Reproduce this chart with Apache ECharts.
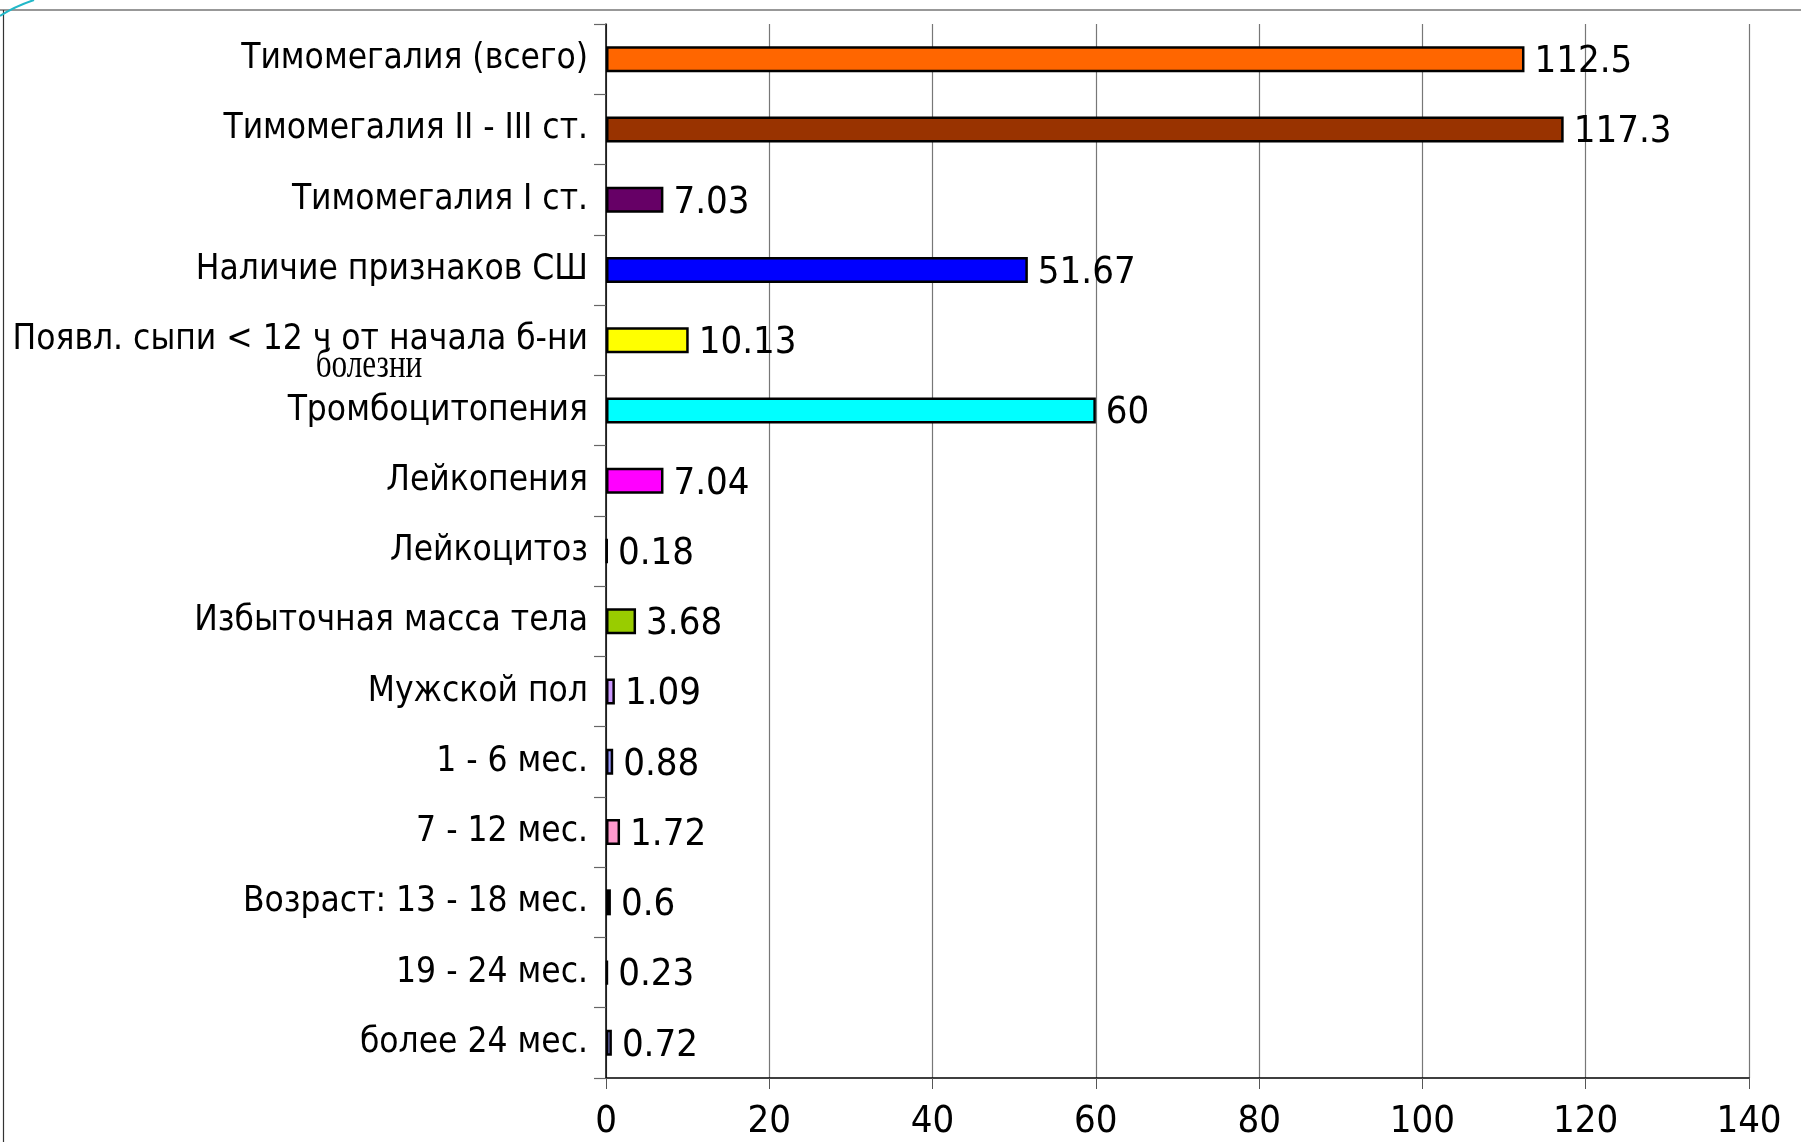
<!DOCTYPE html>
<html>
<head>
<meta charset="utf-8">
<script src="https://cdn.jsdelivr.net/npm/echarts@6/dist/echarts.min.js"></script>
<style>
html,body{margin:0;padding:0;background:#fff;}
#chart{width:1801px;height:1142px;}
</style>
</head>
<body>
<div id="chart"></div>
<script>
var categories = [
  "Тимомегалия (всего)",
  "Тимомегалия II - III ст.",
  "Тимомегалия I ст.",
  "Наличие признаков СШ",
  "Появл. сыпи < 12 ч от начала б-ни",
  "Тромбоцитопения",
  "Лейкопения",
  "Лейкоцитоз",
  "Избыточная масса тела",
  "Мужской пол",
  "1 - 6 мес.",
  "7 - 12 мес.",
  "Возраст: 13 - 18 мес.",
  "19 - 24 мес.",
  "более 24 мес."
];
var values = [112.5, 117.3, 7.03, 51.67, 10.13, 60, 7.04, 0.18, 3.68, 1.09, 0.88, 1.72, 0.6, 0.23, 0.72];
var barColors = ["#FF6600","#993300","#660066","#0000FF","#FFFF00","#00FFFF","#FF00FF","#800000","#99CC00","#CC99FF","#9999FF","#FF99CC","#9999FF","#333333","#9999FF"];
var xTicks = [0, 20, 40, 60, 80, 100, 120, 140];
var extraLabel = "болезни";

var FONT = "'DejaVu Sans Condensed', 'Liberation Sans Narrow', 'DejaVu Sans', sans-serif";

var chart = echarts.init(document.getElementById('chart'), null, {renderer: 'canvas'});
chart.setOption({
  backgroundColor: '#ffffff',
  animation: false,
  grid: {left: 606, right: 52, top: 24, bottom: 64, containLabel: false},
  xAxis: {
    type: 'value',
    min: xTicks[0],
    max: xTicks[xTicks.length - 1],
    interval: xTicks[1] - xTicks[0],
    axisLine: {show: true, lineStyle: {color: '#000', width: 1.5}},
    axisTick: {show: true, length: 11, lineStyle: {color: '#555', width: 1}},
    axisLabel: {color: '#000', fontSize: 38, fontFamily: FONT, margin: 25},
    splitLine: {show: true, lineStyle: {color: '#777', width: 1.2}}
  },
  yAxis: {
    type: 'category',
    data: categories,
    inverse: true,
    axisLine: {show: true, lineStyle: {color: '#000', width: 1.5}},
    axisTick: {show: true, length: 12, lineStyle: {color: '#666', width: 1.2}},
    axisLabel: {color: '#000', fontSize: 35, fontFamily: FONT, margin: 18, padding: [6, 0, 0, 0]},
    splitLine: {show: false}
  },
  series: [{
    type: 'bar',
    barWidth: 26,
    data: values.map(function (v, i) {
      return {value: v, itemStyle: {color: barColors[i]}};
    }),
    itemStyle: {borderColor: '#000', borderWidth: 2.5},
    label: {
      show: true,
      position: 'right',
      distance: 10,
      offset: [0, 3],
      color: '#000',
      fontSize: 38,
      fontFamily: FONT
    }
  }],
  graphic: [
    {type: 'line', shape: {x1: 0, y1: 10, x2: 1801, y2: 10}, style: {stroke: '#333', lineWidth: 1.2}},
    {type: 'line', shape: {x1: 3.5, y1: 10, x2: 3.5, y2: 1142}, style: {stroke: '#333', lineWidth: 1.2}},
    {type: 'bezierCurve', shape: {x1: 0, y1: 16, x2: 34, y2: 0, cpx1: 12, cpy1: 8, cpx2: 22, cpy2: 4}, style: {stroke: '#22B8C8', lineWidth: 2, fill: null}},
    {type: 'text', x: 369, y: 366, scaleX: 0.78,
      style: {text: extraLabel, fontSize: 40, fontFamily: "'Liberation Serif', 'DejaVu Serif', serif", fill: '#000', align: 'center', verticalAlign: 'middle'}}
  ]
});
</script>
</body>
</html>
